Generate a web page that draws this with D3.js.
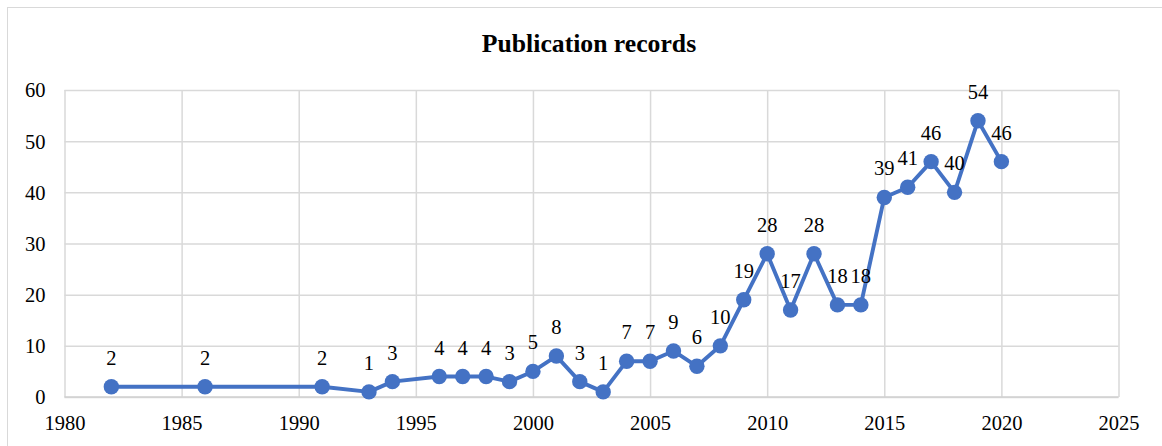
<!DOCTYPE html>
<html>
<head>
<meta charset="utf-8">
<script src="https://cdn.jsdelivr.net/npm/d3@7/dist/d3.min.js"></script>
</head>
<body style="margin:0;padding:0;background:#fff">
<svg id="chart" width="1162" height="446" style="display:block"></svg>
<script>
const title = "Publication records";
const years = [1982, 1986, 1991, 1993, 1994, 1996, 1997, 1998, 1999, 2000, 2001, 2002, 2003, 2004, 2005, 2006, 2007, 2008, 2009, 2010, 2011, 2012, 2013, 2014, 2015, 2016, 2017, 2018, 2019, 2020];
const counts = [2, 2, 2, 1, 3, 4, 4, 4, 3, 5, 8, 3, 1, 7, 7, 9, 6, 10, 19, 28, 17, 28, 18, 18, 39, 41, 46, 40, 54, 46];
const xTicks = [1980, 1985, 1990, 1995, 2000, 2005, 2010, 2015, 2020, 2025];
const yTicks = [0, 10, 20, 30, 40, 50, 60];

const data = years.map((y, i) => ({ year: y, value: counts[i] }));
const FONT = '"Liberation Serif", "Times New Roman", Times, serif';

const svg = d3.select("#chart");
const W = 1162, H = 446;
const plot = { left: 64.5, right: 1118.5, top: 90, bottom: 397 };

// outer chart border
svg.append("rect")
  .attr("x", 7.5).attr("y", 7.5)
  .attr("width", W + 20).attr("height", H + 20)
  .attr("fill", "#fff").attr("stroke", "#d9d9d9").attr("stroke-width", 1);

const x = d3.scaleLinear().domain([1980, 2025]).range([plot.left, plot.right]);
const y = d3.scaleLinear().domain([0, 60]).range([plot.bottom, plot.top]);

// title
svg.append("text")
  .attr("x", 589).attr("y", 51.5)
  .attr("text-anchor", "middle")
  .attr("font-size", "25.7px").attr("font-weight", "bold")
  .attr("font-family", FONT).style("font-family", FONT).attr("fill", "#000")
  .text(title);

// y axis + horizontal gridlines
const gy = svg.append("g")
  .attr("transform", `translate(${plot.left},0)`)
  .call(d3.axisLeft(y).tickValues(yTicks).tickSize(-(plot.right - plot.left)).tickPadding(19).tickFormat(d3.format("d")));
gy.attr("font-family", FONT).style("font-family", FONT);
gy.select(".domain").remove();
gy.selectAll(".tick line").attr("stroke", "#d9d9d9").attr("stroke-width", 1.5);
gy.selectAll(".tick text").attr("font-size", "20.5px").attr("font-family", FONT).style("font-family", FONT).attr("fill", "#000").attr("dy", "0.34em");

// x axis + vertical gridlines
const gx = svg.append("g")
  .attr("transform", `translate(0,${plot.bottom})`)
  .call(d3.axisBottom(x).tickValues(xTicks).tickSize(-(plot.bottom - plot.top)).tickPadding(0).tickFormat(d3.format("d")));
gx.attr("font-family", FONT).style("font-family", FONT);
gx.select(".domain").remove();
gx.selectAll(".tick line").attr("stroke", "#d9d9d9").attr("stroke-width", 1.5);
gx.selectAll(".tick text").attr("font-size", "20.5px").attr("font-family", FONT).style("font-family", FONT).attr("fill", "#000").attr("dy", null).attr("y", 33);

// bottom axis line
svg.append("line")
  .attr("x1", plot.left).attr("x2", plot.right)
  .attr("y1", plot.bottom).attr("y2", plot.bottom)
  .attr("stroke", "#d0d0d0").attr("stroke-width", 1.6);

const color = "#4472C4";

// line
svg.append("path")
  .datum(data)
  .attr("fill", "none")
  .attr("stroke", color)
  .attr("stroke-width", 3.9)
  .attr("stroke-linejoin", "round")
  .attr("d", d3.line().x(d => x(d.year)).y(d => y(d.value)));

// markers
svg.append("g").selectAll("circle")
  .data(data).join("circle")
  .attr("cx", d => x(d.year)).attr("cy", d => y(d.value))
  .attr("r", 7.7)
  .attr("fill", color);

// data labels
svg.append("g").attr("font-family", FONT).style("font-family", FONT)
  .selectAll("text")
  .data(data).join("text")
  .attr("x", d => x(d.year)).attr("y", d => y(d.value) - 22)
  .attr("text-anchor", "middle")
  .attr("font-size", "20.5px")
  .attr("font-family", FONT).style("font-family", FONT).attr("fill", "#000")
  .text(d => d.value);
</script>
</body>
</html>
